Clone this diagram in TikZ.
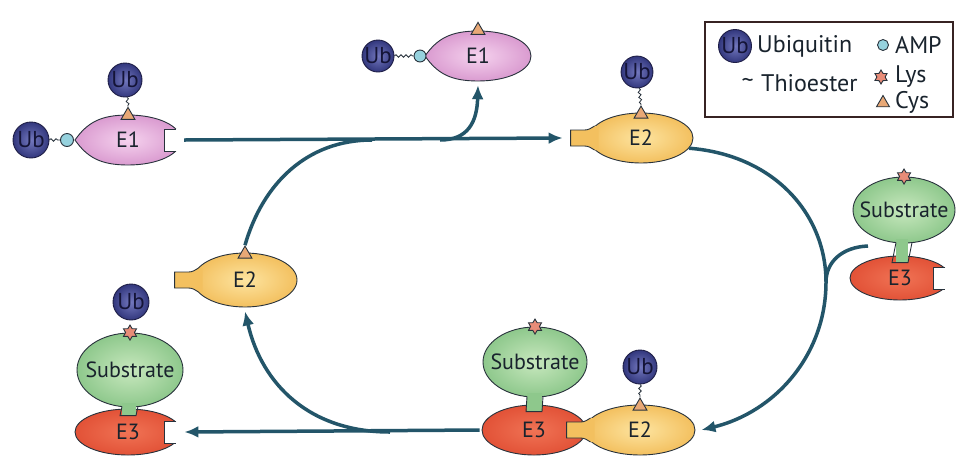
\documentclass[tikz,border=0pt]{standalone}
\usepackage{fontspec}
\setmainfont{PT Sans}
\usetikzlibrary{arrows.meta}
\usetikzlibrary{positioning}
\usetikzlibrary{shapes.geometric}
\usetikzlibrary{decorations.pathmorphing}
\usetikzlibrary{calc}

\definecolor{flowblue}{RGB}{35,85,105}
\definecolor{outline}{RGB}{40,50,60}
\definecolor{textdark}{RGB}{25,35,45}
\definecolor{ubin}{RGB}{115,120,190}
\definecolor{ubout}{RGB}{50,55,125}
\definecolor{ubline}{RGB}{30,30,70}
\definecolor{ubtext}{RGB}{20,20,55}
\definecolor{e1in}{RGB}{245,210,238}
\definecolor{e1out}{RGB}{218,155,208}
\definecolor{e2in}{RGB}{253,228,160}
\definecolor{e2out}{RGB}{243,192,95}
\definecolor{e3in}{RGB}{240,115,85}
\definecolor{e3out}{RGB}{226,82,55}
\definecolor{subin}{RGB}{200,232,190}
\definecolor{subout}{RGB}{142,200,140}
\definecolor{cysfill}{RGB}{232,168,118}
\definecolor{lysfill}{RGB}{232,140,120}
\definecolor{ampfill}{RGB}{150,210,222}
\definecolor{keyline}{RGB}{55,35,35}

\tikzset{
  every node/.style={text=textdark},
  labelfont/.style={font=\fontsize{22}{24}\selectfont},
  flow/.style={draw=flowblue, line width=3.5pt},
  flowtip/.style={flow, -{Latex[length=14pt,width=12pt]}},
  outline/.style={draw=outline, line width=0.9pt},
  thio/.style={draw=outline, line width=0.8pt, decorate,
    decoration={snake, amplitude=1.3pt, segment length=5pt}},
  ub/.style={circle, minimum size=34pt, inner sep=0pt, draw=ubline,
    line width=0.9pt, inner color=ubin, outer color=ubout,
    font=\fontsize{23}{24}\selectfont, text=ubtext},
  amp/.style={circle, minimum size=13pt, inner sep=0pt, outline, fill=ampfill},
  cys/.style={regular polygon, regular polygon sides=3, minimum size=16pt,
    inner sep=0pt, outline, fill=cysfill},
  lys/.style={star, star points=6, star point ratio=1.7, minimum size=15pt,
    inner sep=0pt, outline, fill=lysfill},
  elabel/.style={ellipse, minimum width=106pt, minimum height=50pt,
    inner sep=0pt, labelfont},
  eonefill/.style={outline, inner color=e1in, outer color=e1out},
  etwo/.style={ellipse, minimum width=104pt, minimum height=50pt, inner sep=0pt,
    outline, inner color=e2in, outer color=e2out, labelfont},
  ethree/.style={ellipse, minimum width=106pt, minimum height=46pt, inner sep=0pt,
    outline, inner color=e3in, outer color=e3out, labelfont},
  subst/.style={ellipse, minimum width=104pt, minimum height=70pt, inner sep=0pt,
    outline, inner color=subin, outer color=subout, labelfont},
  keytext/.style={inner sep=0pt, anchor=west, font=\fontsize{24}{26}\selectfont},
  % lens shaped E1 body, pointed on the AMP side
  pics/eonebody/.style={code={
    \path[eonefill] (-53,0) .. controls (-41,-17) and (-28,-25) .. (0,-25)
      .. controls (30,-25) and (53,-14) .. (53,0)
      .. controls (53,14) and (30,25) .. (0,25)
      .. controls (-28,25) and (-41,17) .. (-53,0) -- cycle;}},
  % open binding pocket on the right end
  pics/notch/.style={code={
    \fill[white] (-17,-11) rectangle (3,11);
    \draw[outline] (-5,-11) -- (-17,-11) -- (-17,11) -- (-5,11);}},
  % short E2 stalk on the left end
  pics/stub/.style={code={
    \fill[#1] (-18,-8) -- (-4,-8) .. controls (0,-8) and (3,-10) .. (6,-12)
      -- (10,-12) -- (10,12) -- (6,12) .. controls (3,10) and (0,8) .. (-4,8)
      -- (-18,8) -- cycle;
    \draw[outline] (6,-12) .. controls (3,-10) and (0,-8) .. (-4,-8)
      -- (-18,-8) -- (-18,8) -- (-4,8) .. controls (0,8) and (3,10) .. (6,12);}},
}

\begin{document}
\begin{tikzpicture}[x=1pt,y=-1pt]
  \fill[white] (0,0) rectangle (957,459);
  \useasboundingbox (0,0) rectangle (957,459);

  % E1 charged with Ub-AMP and Ub
  \pic at (128,140) {eonebody};
  \node[elabel] (E1a) at (128,140) {E1};
  \pic at (E1a.east) {notch};
  \node[cys, anchor=south] (cysE1a) at ([yshift=-5pt]E1a.north) {};
  \node[ub] (UbE1) at (125,80) {Ub};
  \node[amp] (ampA) at (67,140) {};
  \node[ub, minimum size=36pt] (UbAmp) at (31,140) {Ub};
  \draw[thio] (UbE1) -- (cysE1a.north);
  \draw[thio] (UbAmp) -- (ampA);

  % E1 after hand-off
  \pic at (478,56) {eonebody};
  \node[elabel] (E1b) at (478,56) {E1};
  \node[cys, anchor=south] (cysE1b) at ([yshift=-4pt]E1b.north) {};
  \node[amp, minimum size=12pt] (ampB) at (420,56) {};
  \node[ub, minimum size=32pt] (UbTop) at (378,56) {Ub};
  \draw[thio] (UbTop) -- (ampB);

  % E2 with Ub
  \node[etwo] (E2a) at (641,138) {E2};
  \pic at (E2a.west) {stub=e2out};
  \node[cys, anchor=south] (cysE2a) at ([yshift=-6pt]E2a.north) {};
  \node[ub, minimum size=31pt] (UbE2a) at (637,72) {Ub};
  \draw[thio] (UbE2a) -- (cysE2a.north);

  % free E2
  \node[etwo, minimum height=54pt] (E2b) at (245,280) {E2};
  \pic at (E2b.west) {stub=e2out};
  \node[cys, anchor=south] (cysE2b) at ([yshift=-6pt]E2b.north) {};

  % E3 with substrate
  \node[subst, minimum width=102pt, minimum height=66pt] (Sr) at (904,210) {\makebox[0pt]{Substrate}};
  \node[ethree, minimum width=100pt, minimum height=44pt] (E3r) at (900,278) {E3};
  \fill[subout] ($(Sr.south)+(-8,-4)$) rectangle ($(E3r.north)+(8,7)$);
  \draw[outline] ($(Sr.south)+(-8,-1)$) -- ($(E3r.north)+(-8,7)$)
    -- ($(E3r.north)+(8,7)$) -- ($(Sr.south)+(8,-1)$);
  \pic at (E3r.east) {notch};
  \node[lys] (lysR) at (Sr.north) {};

  % E3-E2 complex
  \node[subst] (Sc) at (535,362) {\makebox[0pt]{Substrate}};
  \node[ethree, minimum width=104pt, minimum height=50pt] (E3c) at (534,430) {E3};
  \fill[subout] ($(Sc.south)+(-8,-4)$) rectangle ($(E3c.north)+(8,7)$);
  \draw[outline] ($(Sc.south)+(-8,-1)$) -- ($(E3c.north)+(-8,7)$)
    -- ($(E3c.north)+(8,7)$) -- ($(Sc.south)+(8,-1)$);
  \node[lys] (lysC) at (Sc.north) {};
  \node[etwo, minimum width=110pt] (E2c) at (640,430) {E2};
  \pic at (E2c.west) {stub=e2out};
  \node[cys, anchor=south] (cysE2c) at ([yshift=-6pt]E2c.north) {};
  \node[ub] (UbE2c) at (640,367) {Ub};
  \draw[thio] (UbE2c) -- (cysE2c.north);

  % ubiquitinated substrate on E3
  \node[subst, minimum width=106pt, minimum height=74pt] (Sl) at (130,370) {\makebox[0pt]{Substrate}};
  \node[ethree] (E3l) at (128,432) {E3};
  \fill[subout] ($(Sl.south)+(-8,-4)$) rectangle ($(E3l.north)+(8,7)$);
  \draw[outline] ($(Sl.south)+(-8,-1)$) -- ($(E3l.north)+(-8,7)$)
    -- ($(E3l.north)+(8,7)$) -- ($(Sl.south)+(8,-1)$);
  \pic at (E3l.east) {notch};
  \node[lys] (lysL) at (Sl.north) {};
  \node[ub, minimum size=36pt] (UbSl) at (131,302) {Ub};

  % cycle arrows
  \coordinate (topsplit) at (440,140);
  \coordinate (topjoin) at (372,140);
  \coordinate (cyclemid) at (826,282);
  \coordinate (e3out) at (868,246);
  \coordinate (botsplit) at (390,432);

  \draw[flow] (cysE2b.north) to[out=74,in=180] (topjoin);
  \draw[flowtip] ([xshift=3pt]E1a.east) -- ([xshift=-26pt]E2a.west);
  \draw[flowtip] (topsplit) .. controls (468,140) and (477,122) .. ([yshift=-4pt]E1b.south);
  \draw[flowtip] (E2a.-12) .. controls (775,155) and (826,215) .. (cyclemid)
    .. controls (826,355) and (775,412) .. ([xshift=6pt]E2c.east);
  \draw[flow] (e3out) .. controls (842,247) and (826,262) .. (cyclemid);
  \draw[flowtip] ([xshift=-2pt]E3c.west) -- ([xshift=3pt]E3l.east);
  \draw[flowtip] (botsplit) .. controls (310,432) and (262,385) .. ([yshift=-4pt]E2b.south);

  % key
  \draw[draw=keyline, line width=1.2pt] (705,22) rectangle (953,117);
  \node[ub, minimum size=33pt] (keyUb) at (735,46) {Ub};
  \node[keytext, right=5pt of keyUb] (keyUbText) {Ubiquitin};
  \node[keytext] (keyThText) at (761,83) {Thioester};
  \node[keytext, left=7pt of keyThText] (keyTh) {\textasciitilde};
  \node[amp, minimum size=11pt] (keyAmp) at (883,45) {};
  \node[keytext] (keyAmpText) at (895,45) {AMP};
  \node[lys, minimum size=14pt] (keyLys) at (881,77) {};
  \node[keytext] (keyLysText) at (895,77) {Lys};
  \node[cys, minimum size=15pt] (keyCys) at (883,103) {};
  \node[keytext] (keyCysText) at (895,102) {Cys};
\end{tikzpicture}
\end{document}
